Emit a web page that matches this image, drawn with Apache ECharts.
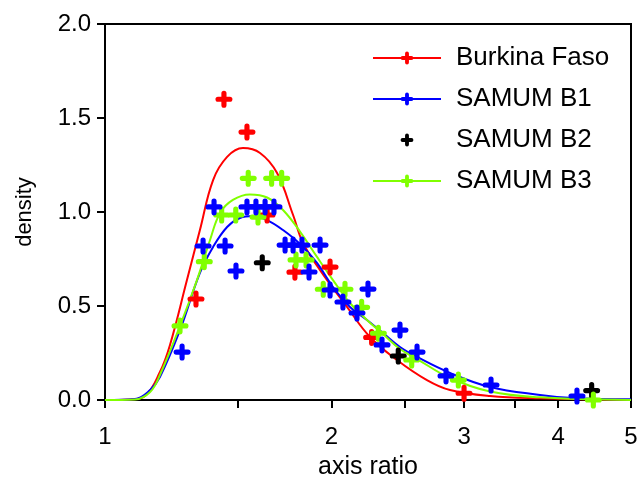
<!DOCTYPE html>
<html>
<head>
<meta charset="utf-8">
<script src="https://cdn.jsdelivr.net/npm/echarts@6/dist/echarts.min.js"></script>
<style>html,body{margin:0;padding:0;background:#fff;}#c{width:640px;height:481px;}</style>
</head>
<body>
<div id="c"></div>
<script>
// ---- data ----
const seriesNames = ['Burkina Faso', 'SAMUM B1', 'SAMUM B2', 'SAMUM B3'];
const xTickLabels = [1, 2, 3, 4, 5];
const xTickValues = [1, 1.5, 2, 2.5, 3, 3.5, 4, 5];

// measured points
const bfX = [1.321, 1.439, 1.544, 1.642, 1.788, 1.991, 2.261, 3.0];
const bfY = [0.537, 1.600, 1.425, 0.984, 0.680, 0.707, 0.333, 0.036];

const b1X = [1.266, 1.350, 1.396, 1.444, 1.493, 1.544, 1.587, 1.632, 1.677, 1.735, 1.778, 1.827, 1.867, 1.931, 1.991, 2.071, 2.162, 2.236, 2.334, 2.466, 2.598, 2.839, 3.258, 4.238];
const b1Y = [0.255, 0.819, 1.027, 0.819, 0.686, 1.027, 1.027, 1.027, 1.027, 0.824, 0.824, 0.824, 0.681, 0.824, 0.585, 0.521, 0.463, 0.590, 0.293, 0.372, 0.255, 0.128, 0.080, 0.021];

const b2X = [1.618, 2.453, 4.433];
const b2Y = [0.730, 0.234, 0.050];

const b3X = [1.258, 1.355, 1.429, 1.492, 1.550, 1.597, 1.665, 1.717, 1.794, 1.850, 1.950, 2.084, 2.193, 2.308, 2.556, 2.948, 4.456];
const b3Y = [0.394, 0.736, 0.984, 0.984, 1.179, 0.973, 1.179, 1.179, 0.745, 0.745, 0.589, 0.589, 0.493, 0.355, 0.213, 0.106, 0.000];

// fitted curves
const bfCurveX = [1.0, 1.080, 1.130, 1.183, 1.220, 1.285, 1.337, 1.392, 1.453, 1.525, 1.607, 1.693, 1.778, 1.833, 1.931, 2.097, 2.250, 2.443, 2.678, 2.874, 3.248, 3.785, 5.0];
const bfCurveY = [0, 0.003, 0.021, 0.149, 0.293, 0.638, 0.904, 1.170, 1.293, 1.340, 1.314, 1.207, 0.984, 0.835, 0.691, 0.495, 0.335, 0.213, 0.106, 0.053, 0.021, 0.009, 0];

const b1CurveX = [1.0, 1.096, 1.148, 1.183, 1.258, 1.337, 1.392, 1.453, 1.511, 1.573, 1.642, 1.724, 1.816, 1.913, 2.009, 2.116, 2.229, 2.341, 2.466, 2.598, 2.874, 3.248, 3.785, 4.187, 5.0];
const b1CurveY = [0, 0.005, 0.053, 0.122, 0.372, 0.676, 0.814, 0.920, 0.968, 0.979, 0.957, 0.904, 0.830, 0.729, 0.601, 0.495, 0.426, 0.356, 0.282, 0.229, 0.144, 0.069, 0.027, 0.011, 0.004];

const b3CurveX = [1.0, 1.096, 1.148, 1.183, 1.258, 1.325, 1.379, 1.422, 1.479, 1.558, 1.642, 1.724, 1.816, 1.913, 2.009, 2.116, 2.229, 2.341, 2.466, 2.598, 2.874, 3.248, 3.785, 5.0];
const b3CurveY = [0, 0.003, 0.043, 0.133, 0.394, 0.638, 0.851, 0.995, 1.064, 1.093, 1.077, 1.011, 0.896, 0.761, 0.638, 0.516, 0.426, 0.351, 0.271, 0.218, 0.117, 0.045, 0.014, 0];

// ---- chart ----
const colors = ['#ff0000', '#0000ff', '#000000', '#80ff00'];
const plus = 'path://M-2.6,-6A2.6,2.6 0 0 1 2.6,-6L2.6,-2.6L6,-2.6A2.6,2.6 0 0 1 6,2.6L2.6,2.6L2.6,6A2.6,2.6 0 0 1 -2.6,6L-2.6,2.6L-6,2.6A2.6,2.6 0 0 1 -6,-2.6L-2.6,-2.6Z';
const FONT = '"Liberation Sans", Arial, sans-serif';
const zip = (xs, ys) => xs.map((x, i) => [x, ys[i]]);

function curve(name, xs, ys, color) {
  return {
    name, type: 'line', data: zip(xs, ys), smooth: 0.4,
    symbol: plus, showSymbol: false, symbolSize: 17,
    lineStyle: { color, width: 2 }, itemStyle: { color, opacity: 1 }, z: 2
  };
}
function points(name, xs, ys, color) {
  return {
    name, type: 'scatter', data: zip(xs, ys), symbol: plus, symbolSize: 17,
    itemStyle: { color, opacity: 1 }, z: 3
  };
}

const chart = echarts.init(document.getElementById('c'), null, { renderer: 'canvas' });
chart.setOption({
  animation: false,
  textStyle: { fontFamily: FONT },
  grid: { left: 105, right: 9, top: 24, bottom: 81, show: true, borderColor: '#000', borderWidth: 2,
    containLabel: false, outerBoundsMode: 'none' },
  legend: {
    orient: 'vertical', left: 372, top: 45, padding: 0,
    itemWidth: 68, itemHeight: 16, itemGap: 15,
    data: seriesNames,
    textStyle: { fontSize: 26, color: '#000', fontFamily: FONT, lineHeight: 26, padding: [0, 0, 0, 10] }
  },
  xAxis: {
    type: 'log', logBase: 10, min: 1, max: 5,
    name: 'axis ratio', nameLocation: 'middle', nameGap: 55,
    nameTextStyle: { fontSize: 25, color: '#000', fontFamily: FONT },
    axisLine: { show: true, onZero: false, lineStyle: { color: '#000', width: 2 } },
    axisTick: { show: true, length: 8, lineStyle: { color: '#000', width: 2 }, customValues: xTickValues },
    axisLabel: { customValues: xTickLabels, fontSize: 24, color: '#000', margin: 25, fontFamily: FONT,
      formatter: v => String(Math.round(v * 10) / 10) },
    splitLine: { show: false }, minorTick: { show: false }
  },
  yAxis: {
    type: 'value', min: 0, max: 2, interval: 0.5,
    name: 'density', nameLocation: 'middle', nameGap: 69, nameRotate: 90,
    nameTextStyle: { fontSize: 22, color: '#000', fontFamily: FONT },
    axisLine: { show: true, lineStyle: { color: '#000', width: 2 } },
    axisTick: { show: true, length: 8, lineStyle: { color: '#000', width: 2 } },
    axisLabel: { fontSize: 24, color: '#000', margin: 14, fontFamily: FONT, formatter: v => v.toFixed(1) },
    splitLine: { show: false }
  },
  series: [
    curve(seriesNames[0], bfCurveX, bfCurveY, colors[0]),
    curve(seriesNames[1], b1CurveX, b1CurveY, colors[1]),
    {
      name: seriesNames[2], type: 'line', data: zip(b2X, b2Y), symbol: plus, symbolSize: 17, showSymbol: true,
      lineStyle: { color: colors[2], opacity: 0 }, itemStyle: { color: colors[2], opacity: 1 }, z: 3
    },
    curve(seriesNames[3], b3CurveX, b3CurveY, colors[3]),
    points(seriesNames[0], bfX, bfY, colors[0]),
    points(seriesNames[3], b3X, b3Y, colors[3]),
    points(seriesNames[1], b1X, b1Y, colors[1])
  ]
});
</script>
</body>
</html>
